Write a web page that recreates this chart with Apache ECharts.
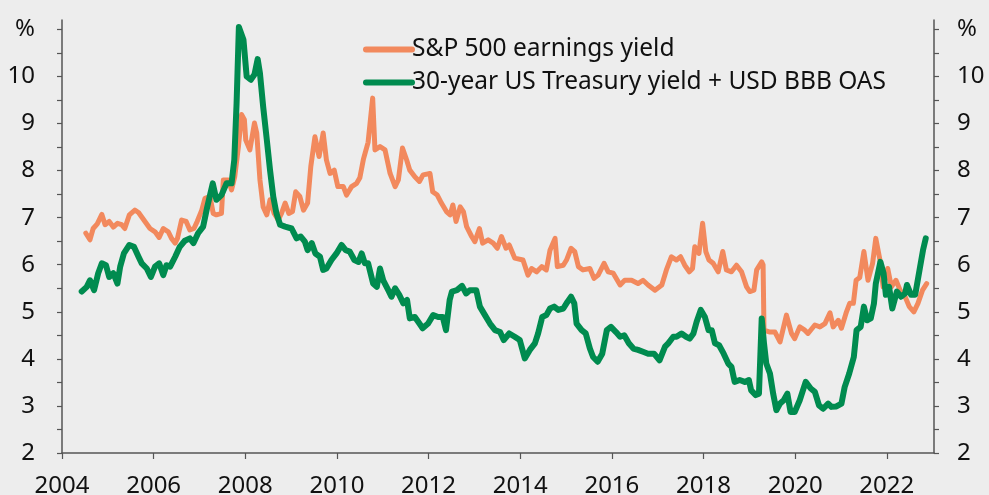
<!DOCTYPE html>
<html>
<head>
<meta charset="utf-8">
<script src="https://cdn.jsdelivr.net/npm/echarts@6/dist/echarts.min.js"></script>
<style>
html,body{margin:0;padding:0;background:#ededed;}
#chart{width:989px;height:495px;}
</style>
</head>
<body>
<div id="chart"></div>
<script>
// S&P 500 earnings yield (decimal year, %)
var spYears = [2004.52,2004.61,2004.68,2004.77,2004.87,2004.94,2005.03,2005.12,2005.21,2005.30,2005.37,2005.47,2005.59,2005.67,2005.81,2005.92,2006.03,2006.12,2006.21,2006.32,2006.39,2006.47,2006.52,2006.61,2006.71,2006.79,2006.88,2006.95,2007.05,2007.12,2007.23,2007.30,2007.37,2007.48,2007.52,2007.63,2007.70,2007.77,2007.85,2007.92,2007.98,2008.01,2008.10,2008.20,2008.25,2008.32,2008.39,2008.47,2008.54,2008.63,2008.72,2008.79,2008.87,2008.95,2009.03,2009.10,2009.19,2009.27,2009.36,2009.43,2009.52,2009.61,2009.70,2009.77,2009.85,2009.94,2010.02,2010.14,2010.21,2010.32,2010.43,2010.50,2010.58,2010.68,2010.78,2010.83,2010.94,2011.05,2011.16,2011.27,2011.34,2011.43,2011.52,2011.59,2011.70,2011.80,2011.88,2012.03,2012.09,2012.19,2012.28,2012.39,2012.47,2012.53,2012.60,2012.69,2012.76,2012.83,2012.94,2013.01,2013.11,2013.18,2013.30,2013.41,2013.50,2013.59,2013.69,2013.76,2013.88,2014.06,2014.17,2014.25,2014.36,2014.47,2014.57,2014.65,2014.76,2014.81,2014.94,2015.01,2015.11,2015.19,2015.27,2015.37,2015.52,2015.61,2015.70,2015.83,2015.92,2016.03,2016.18,2016.28,2016.43,2016.57,2016.68,2016.79,2016.94,2017.09,2017.19,2017.30,2017.41,2017.50,2017.59,2017.69,2017.76,2017.81,2017.90,2017.98,2018.05,2018.12,2018.21,2018.32,2018.42,2018.50,2018.61,2018.72,2018.83,2018.94,2019.01,2019.10,2019.16,2019.27,2019.30,2019.32,2019.45,2019.56,2019.67,2019.81,2019.92,2019.99,2020.10,2020.21,2020.28,2020.43,2020.54,2020.65,2020.76,2020.83,2020.94,2021.01,2021.12,2021.19,2021.27,2021.33,2021.41,2021.50,2021.59,2021.69,2021.76,2021.85,2021.92,2022.02,2022.10,2022.20,2022.29,2022.40,2022.49,2022.59,2022.68,2022.78,2022.87];
var spValues = [6.67,6.53,6.77,6.87,7.07,6.85,6.92,6.80,6.88,6.85,6.77,7.06,7.16,7.11,6.92,6.77,6.70,6.58,6.77,6.70,6.56,6.46,6.56,6.95,6.92,6.74,6.77,6.92,7.16,7.41,7.45,7.09,7.06,7.09,7.80,7.80,7.59,7.87,8.51,9.19,9.08,8.65,8.44,9.01,8.80,7.80,7.23,7.06,7.38,7.09,6.95,7.09,7.31,7.09,7.13,7.55,7.45,7.16,7.31,8.09,8.72,8.30,8.80,8.23,7.94,8.01,7.66,7.66,7.48,7.66,7.73,7.85,8.25,8.60,9.54,8.44,8.51,8.44,7.94,7.66,7.80,8.48,8.23,8.01,7.87,7.77,7.91,7.94,7.55,7.48,7.31,7.13,7.06,7.27,6.92,7.23,7.13,6.81,6.60,6.49,6.77,6.46,6.53,6.46,6.35,6.60,6.35,6.42,6.14,6.10,5.78,5.92,5.85,5.96,5.89,6.31,6.56,5.96,5.99,6.10,6.35,6.28,5.96,5.89,5.92,5.71,5.78,6.03,5.85,5.82,5.57,5.67,5.67,5.60,5.67,5.57,5.46,5.57,5.89,6.17,6.10,6.17,5.99,5.85,5.92,6.38,6.24,6.88,6.28,6.10,6.03,5.85,6.28,5.89,5.85,5.99,5.85,5.53,5.43,5.46,5.89,6.06,6.00,4.61,4.57,4.57,4.36,4.93,4.54,4.43,4.68,4.61,4.54,4.72,4.68,4.75,4.98,4.68,4.82,4.65,5.00,5.18,5.18,5.67,5.73,6.28,5.67,6.03,6.56,6.10,5.53,5.92,5.53,5.67,5.46,5.32,5.11,5.00,5.18,5.46,5.60];

// 30-year US Treasury yield + USD BBB OAS (decimal year, %)
var tsyYears = [2004.43,2004.54,2004.61,2004.70,2004.79,2004.87,2004.96,2005.03,2005.12,2005.21,2005.27,2005.35,2005.47,2005.57,2005.67,2005.74,2005.85,2005.94,2006.03,2006.12,2006.21,2006.28,2006.36,2006.47,2006.57,2006.68,2006.79,2006.87,2006.97,2007.08,2007.17,2007.29,2007.37,2007.48,2007.59,2007.70,2007.76,2007.81,2007.86,2007.96,2008.03,2008.12,2008.20,2008.27,2008.32,2008.39,2008.47,2008.54,2008.61,2008.68,2008.76,2008.87,2009.01,2009.12,2009.21,2009.30,2009.36,2009.45,2009.53,2009.63,2009.70,2009.77,2009.88,2009.99,2010.10,2010.19,2010.28,2010.38,2010.47,2010.54,2010.61,2010.68,2010.79,2010.87,2010.94,2011.01,2011.12,2011.19,2011.27,2011.36,2011.45,2011.53,2011.59,2011.70,2011.80,2011.87,2011.99,2012.10,2012.21,2012.31,2012.38,2012.46,2012.51,2012.62,2012.73,2012.82,2012.90,2013.04,2013.12,2013.23,2013.34,2013.45,2013.56,2013.64,2013.76,2013.88,2013.99,2014.10,2014.21,2014.32,2014.39,2014.48,2014.57,2014.65,2014.74,2014.83,2014.94,2015.03,2015.11,2015.18,2015.23,2015.34,2015.43,2015.52,2015.59,2015.69,2015.79,2015.89,2015.98,2016.09,2016.18,2016.27,2016.37,2016.47,2016.57,2016.68,2016.79,2016.92,2017.04,2017.16,2017.23,2017.34,2017.41,2017.52,2017.62,2017.70,2017.78,2017.85,2017.94,2018.03,2018.11,2018.18,2018.25,2018.34,2018.44,2018.54,2018.61,2018.68,2018.79,2018.90,2018.99,2019.04,2019.14,2019.21,2019.27,2019.32,2019.37,2019.45,2019.52,2019.59,2019.67,2019.75,2019.83,2019.90,2019.99,2020.10,2020.23,2020.34,2020.43,2020.52,2020.61,2020.72,2020.79,2020.90,2021.01,2021.08,2021.18,2021.28,2021.34,2021.43,2021.50,2021.57,2021.65,2021.72,2021.76,2021.86,2021.93,2021.98,2022.05,2022.12,2022.22,2022.31,2022.40,2022.44,2022.53,2022.62,2022.72,2022.79,2022.85];
var tsyValues = [5.43,5.53,5.67,5.46,5.82,6.03,5.99,5.74,5.82,5.60,5.96,6.24,6.42,6.38,6.17,6.03,5.92,5.74,5.96,6.03,5.78,5.99,5.96,6.17,6.38,6.51,6.56,6.46,6.67,6.81,7.23,7.73,7.38,7.48,7.73,7.73,8.23,9.43,11.05,10.78,10.00,9.93,10.04,10.37,10.07,9.36,8.65,8.01,7.45,7.09,6.85,6.81,6.77,6.56,6.60,6.49,6.31,6.46,6.24,6.17,5.89,5.92,6.10,6.24,6.42,6.31,6.28,6.10,6.06,6.24,6.03,6.03,5.60,5.53,5.92,5.67,5.46,5.32,5.50,5.36,5.18,5.25,4.86,4.89,4.75,4.65,4.75,4.93,4.89,4.89,4.61,5.25,5.43,5.46,5.55,5.39,5.46,5.46,5.11,4.93,4.75,4.61,4.57,4.40,4.54,4.47,4.40,4.01,4.19,4.33,4.54,4.89,4.93,5.07,5.11,5.04,5.07,5.21,5.32,5.18,4.75,4.61,4.54,4.22,4.04,3.94,4.11,4.61,4.68,4.57,4.47,4.50,4.33,4.22,4.19,4.15,4.11,4.11,3.97,4.26,4.33,4.47,4.47,4.54,4.47,4.43,4.54,4.79,5.04,4.89,4.61,4.61,4.33,4.29,4.11,3.90,3.83,3.51,3.55,3.51,3.55,3.33,3.23,3.26,4.86,4.33,3.90,3.69,3.26,2.91,3.05,3.12,3.26,2.87,2.87,3.12,3.51,3.37,3.30,3.01,2.94,3.05,2.98,2.99,3.05,3.40,3.69,4.04,4.61,4.68,5.11,4.82,4.86,5.18,5.60,6.06,5.82,5.36,5.53,5.07,5.43,5.32,5.39,5.57,5.36,5.36,5.92,6.31,6.56];

var xTickYears = [2004,2006,2008,2010,2012,2014,2016,2018,2020,2022];
var yTickValues = [2,3,4,5,6,7,8,9,10,11];
var yMinorValues = [2,2.5,3,3.5,4,4.5,5,5.5,6,6.5,7,7.5,8,8.5,9,9.5,10,10.5,11];

function pairs(xs, ys){ return xs.map(function(x,i){ return [x, ys[i]]; }); }

var FONT = 'Noto Sans';
var axisCol = '#555555';
var txtCol = '#111111';

function yAxis(pos){
  return {
    type: 'value', position: pos, min: 2, max: 11.2,
    axisLine: {show: true, lineStyle: {color: axisCol, width: 1.5}},
    axisTick: {show: true, customValues: yMinorValues, length: 5, lineStyle: {color: axisCol, width: 1.2}},
    axisLabel: {
      customValues: yTickValues, color: txtCol, fontFamily: FONT, fontSize: 24,
      margin: pos === 'left' ? 27 : 23,
      formatter: function(v){ return v === 11 ? '%' : String(v); }
    },
    splitLine: {show: false}
  };
}

var chart = echarts.init(document.getElementById('chart'), null, {renderer: 'canvas'});
chart.setOption({
  backgroundColor: '#ededed',
  animation: false,
  textStyle: {fontFamily: FONT},
  grid: {left: 62, right: 55, top: 20, bottom: 42, containLabel: false, outerBoundsMode: 'none'},
  legend: {
    orient: 'vertical', left: 358, top: 30, itemGap: 4,
    itemWidth: 52, itemHeight: 7,
    icon: 'path://M3,0 L49,0 A3,3 0 0 1 49,6 L3,6 A3,3 0 0 1 3,0 Z',
    textStyle: {fontSize: 24.5, color: txtCol, fontFamily: FONT, padding: [0,0,0,-8], lineHeight: 29},
    data: ['S&P 500 earnings yield', '30-year US Treasury yield + USD BBB OAS']
  },
  xAxis: {
    type: 'value', min: 2004, max: 2023.03,
    axisLine: {show: true, lineStyle: {color: axisCol, width: 1.5}},
    axisTick: {show: true, customValues: xTickYears, length: 6, lineStyle: {color: axisCol, width: 1.2}},
    axisLabel: {customValues: xTickYears, color: txtCol, fontFamily: FONT, fontSize: 24, margin: 21,
      formatter: function(v){ return String(v); }},
    splitLine: {show: false}
  },
  yAxis: [yAxis('left'), yAxis('right')],
  series: [
    {
      name: 'S&P 500 earnings yield', type: 'line', symbol: 'none',
      data: pairs(spYears, spValues),
      itemStyle: {color: '#f2895d'},
      lineStyle: {color: '#f2895d', width: 5, cap: 'round', join: 'round'}
    },
    {
      name: '30-year US Treasury yield + USD BBB OAS', type: 'line', symbol: 'none',
      data: pairs(tsyYears, tsyValues),
      itemStyle: {color: '#008b4f'},
      lineStyle: {color: '#008b4f', width: 6, cap: 'round', join: 'round'}
    }
  ]
});
</script>
</body>
</html>
